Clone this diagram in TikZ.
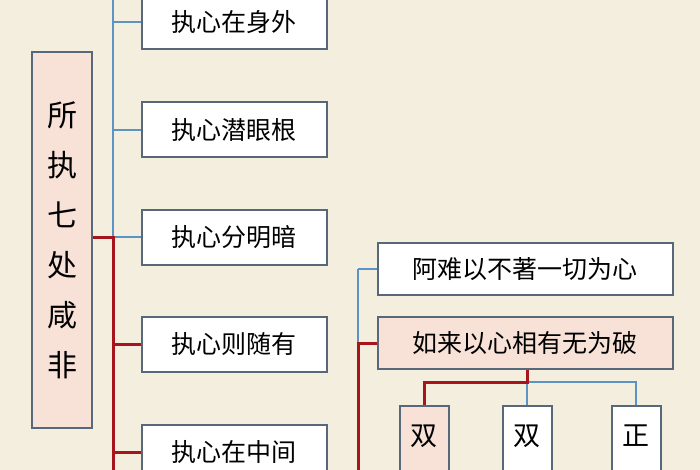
\documentclass[tikz,border=0pt]{standalone}
\usepackage{fontspec}
\setmainfont{Noto Sans CJK SC}
\usetikzlibrary{positioning}
\definecolor{paper}{HTML}{F4EEDF}
\definecolor{pinkbox}{HTML}{F8E2D8}
\definecolor{edge}{HTML}{56687A}
\definecolor{bluel}{HTML}{5B93C4}
\definecolor{redl}{HTML}{A8141C}
\tikzset{
  box/.style={draw=edge,line width=2pt,fill=white,inner sep=0pt,font=\fontsize{25}{25}\selectfont},
  pbox/.style={box,fill=pinkbox},
  subbox/.style={box,minimum width=49pt,minimum height=110pt,anchor=north},
  subtext/.style={anchor=north,inner sep=0pt,align=center,font=\fontsize{27}{50}\selectfont},
  blueline/.style={draw=bluel,line width=2.6pt},
  redline/.style={draw=redl,line width=3pt}
}
\begin{document}
\begin{tikzpicture}[x=1pt,y=-1pt]
	\useasboundingbox (0,0) rectangle (700,470);
	\clip (0,0) rectangle (700,470);
	\fill[paper] (0,0) rectangle (700,470);

	% left column
	\node[pbox,minimum width=60pt,minimum height=375pt,font=\fontsize{30}{50}\selectfont,align=center] (root) at (62,240) {所\\执\\七\\处\\咸\\非};
	\node[box,minimum width=185pt,minimum height=55pt] (c1) at (234,22) {执心在身外};
	\node[box,minimum width=185pt,minimum height=55pt] (c2) at (234,130) {执心潜眼根};
	\node[box,minimum width=185pt,minimum height=55pt] (c3) at (234,237) {执心分明暗};
	\node[box,minimum width=185pt,minimum height=55pt] (c4) at (234,344) {执心则随有};
	\node[box,minimum width=185pt,minimum height=55pt] (c5) at (234,452) {执心在中间};

	\coordinate (trunk) at (113,237);
	\draw[blueline] (113,-5) -- (trunk);
	\foreach \n in {c1,c2,c3}
	  \draw[blueline] (trunk |- \n.west) -- (\n.west);
	\draw[redline] (root.east |- trunk) -- (trunk) -- (113,475);
	\foreach \n in {c4,c5}
	  \draw[redline] (trunk |- \n.west) -- (\n.west);

	% right column
	\node[box,minimum width=295pt,minimum height=52pt] (r1) at (525,269) {阿难以不著一切为心};
	\node[pbox,minimum width=295pt,minimum height=52pt] (r2) at (525,343) {如来以心相有无为破};
	\coordinate (rtrunk) at (358,269);
	\draw[blueline] (rtrunk) -- (r1.west);
	\draw[blueline] (rtrunk) -- (rtrunk |- r2.west);
	\draw[redline] (r2.west) -- (rtrunk |- r2.west) -- (358,475);

	% sub boxes
	\node[subbox,fill=pinkbox] (s1) at (424,405) {};
	\node[subbox] (s2) at (527,405) {};
	\node[subbox] (s3) at (636,405) {};
	\node[subtext,below=20pt of s1.north] (s1t) {双\\征};
	\node[subtext,below=20pt of s2.north] (s2t) {双\\示};
	\node[subtext,below=20pt of s3.north] (s3t) {正\\示};
	\coordinate (fork) at (527,382);
	\draw[blueline] (fork) -- (s3.north |- fork) -- (s3.north);
	\draw[blueline] (fork) -- (s2.north);
	\draw[redline] (r2.south -| fork) -- (fork) -- (s1.north |- fork) -- (s1.north);
\end{tikzpicture}
\end{document}
